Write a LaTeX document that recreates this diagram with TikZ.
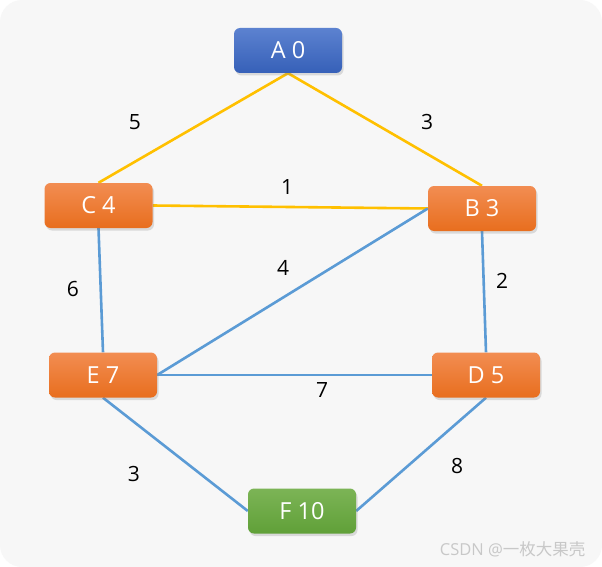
\documentclass[tikz,border=0pt]{standalone}
\usepackage{fontspec}
\setmainfont{Open Sans}
\newfontfamily\cjkfont{Noto Sans CJK SC}
\usetikzlibrary{shadows}
\pgfdeclarelayer{bgl}
\pgfdeclarelayer{edgel}
\pgfsetlayers{bgl,edgel,main}
\definecolor{bgc}{HTML}{F7F7F7}
\definecolor{yel}{HTML}{FFC000}
\definecolor{blu}{HTML}{5B9BD5}
\definecolor{blueT}{RGB}{92,130,208}
\definecolor{blueB}{RGB}{54,96,184}
\definecolor{orT}{RGB}{242,141,82}
\definecolor{orB}{RGB}{232,110,30}
\definecolor{grT}{RGB}{124,180,86}
\definecolor{grB}{RGB}{96,160,56}
\definecolor{wmc}{RGB}{200,200,200}
\tikzset{
  vbox/.style={rounded corners=6pt, minimum width=108pt, minimum height=45pt,
    text=white, font=\fontsize{23.5}{27}\selectfont, inner sep=0pt,
    drop shadow={shadow xshift=1.5pt, shadow yshift=-2.5pt, opacity=0.25}},
  bluebox/.style={vbox, top color=blueT, bottom color=blueB},
  orbox/.style={vbox, top color=orT, bottom color=orB},
  grbox/.style={vbox, top color=grT, bottom color=grB},
  yedge/.style={draw=yel, line width=2.6pt},
  bedge/.style={draw=blu, line width=2.6pt},
  wlabel/.style={font=\fontsize{21}{25}\selectfont, text=black}
}
\begin{document}
\begin{tikzpicture}[x=1pt,y=-1pt]
\begin{pgfonlayer}{bgl}
\fill[white] (0,0) rectangle (602,567);
\fill[bgc, rounded corners=22pt] (0,0) rectangle (602,567);
\end{pgfonlayer}
\useasboundingbox (0,0) rectangle (602,567);

\node[bluebox] (A) at (288,50.5) {A 0};
\node[orbox] (C) at (98.5,205.5) {C 4};
\node[orbox] (B) at (482,208.5) {B 3};
\node[orbox] (E) at (103,375) {E 7};
\node[orbox] (D) at (486,375) {D 5};
\node[grbox] (F) at (302,511) {F 10};

\begin{pgfonlayer}{edgel}
\draw[yedge] (A.south) -- (C.north);
\draw[yedge] (A.south) -- (B.north);
\draw[yedge] (C.east) -- (B.west);
\draw[bedge] (C.south) -- (E.north);
\draw[bedge] (B.south) -- (D.north);
\draw[bedge] (B.west) -- (E.east);
\draw[bedge] (E.east) -- (D.west);
\draw[bedge] (E.south) -- (F.west);
\draw[bedge] (D.south) -- (F.east);
\end{pgfonlayer}

\node[wlabel] (l1) at (135,122) {5};
\node[wlabel] (l2) at (427,122) {3};
\node[wlabel] (l3) at (287,187) {1};
\node[wlabel] (l4) at (73,289) {6};
\node[wlabel] (l5) at (283,268) {4};
\node[wlabel] (l6) at (502,281) {2};
\node[wlabel] (l7) at (322,390) {7};
\node[wlabel] (l8) at (134,474) {3};
\node[wlabel] (l9) at (457,466) {8};

\node[text=wmc, font=\fontsize{16.5}{20}\selectfont, anchor=east] (wm) at (589,549) {CSDN @{\cjkfont 一枚大果壳}};
\end{tikzpicture}
\end{document}
